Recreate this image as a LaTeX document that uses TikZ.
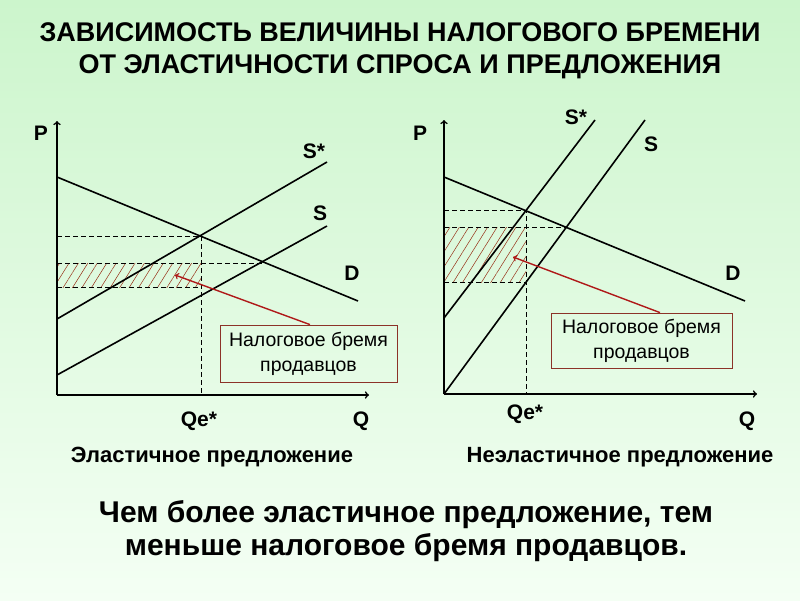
\documentclass[tikz,border=0pt]{standalone}
\usepackage{fontspec}
\setmainfont{Liberation Sans}
\usetikzlibrary{arrows, positioning, calc, patterns.meta}
\definecolor{bgtop}{RGB}{204, 245, 204}
\definecolor{bgbottom}{RGB}{244, 255, 244}
\definecolor{taxred}{RGB}{175, 25, 25}
\definecolor{boxred}{RGB}{140, 50, 40}
\definecolor{hatchred}{RGB}{150, 45, 20}

\tikzset{
    curve/.style={line width=1.6pt},
    axisline/.style={line width=1.6pt, ->, >=to},
    guide/.style={line width=0.6pt, dash pattern=on 5pt off 3pt},
    burden/.style={pattern={Lines[angle=58, distance=8pt, line width=0.5pt]}, pattern color=hatchred},
    taxbox/.style={draw=boxred, line width=0.8pt, align=center, inner sep=0pt, font=\fontsize{19.5}{25}\selectfont},
    letter/.style={font=\bfseries\fontsize{21}{23}\selectfont},
    caption/.style={font=\bfseries\fontsize{22}{24}\selectfont},
    pointer/.style={draw=taxred, line width=1.4pt, ->, >=to}
}

\begin{document}
\begin{tikzpicture}[x=1pt, y=-1pt]
    % background
    \shade[top color=bgtop, bottom color=bgbottom] (0,0) rectangle (800,600);
    \useasboundingbox (0,0) rectangle (800,600);

    % title
    \node[font=\bfseries\fontsize{27}{32}\selectfont, align=center] (title) at (400,51) {ЗАВИСИМОСТЬ ВЕЛИЧИНЫ НАЛОГОВОГО БРЕМЕНИ\\ОТ ЭЛАСТИЧНОСТИ СПРОСА И ПРЕДЛОЖЕНИЯ};

    % ---- elastic supply ----
    \coordinate (o1) at (57,395);
    \fill[burden] (57,263) rectangle (201,287);
    \draw[guide] (57,236) -- (201,236) -- (201,395);
    \draw[guide] (57,263) -- (263,263);
    \draw[guide] (57,287) -- (201,287);
    \draw[curve] (57,177) -- (358,301);
    \draw[curve] (57,319) -- (327,162);
    \draw[curve] (57,375) -- (327,226);
    \draw[axisline] (o1) -- (57,121);
    \draw[axisline] (o1) -- (369,395);
    \node[letter] (p1) at (41,133) {P};
    \node[letter] (q1) at (361,421) {Q};
    \node[letter] (qe1) at (199,421) {Qe*};
    \node[letter] (ss1) at (314,151) {S*};
    \node[letter] (s1) at (320,213) {S};
    \node[letter] (d1) at (352,273) {D};
    \node[taxbox, minimum width=177pt, minimum height=57pt] (box1) at (308.5,353.5) {Налоговое бремя\\продавцов};
    \coordinate (tip1) at (175,275);
    \draw[pointer] (box1.north -| 310,0) -- (tip1);

    % ---- inelastic supply ----
    \coordinate (o2) at (444,394);
    \fill[burden] (444,227) rectangle (526,282);
    \draw[guide] (444,210) -- (526,210) -- (526,394);
    \draw[guide] (444,227) -- (566,227);
    \draw[guide] (444,282) -- (526,282);
    \draw[curve] (444,177) -- (745,301);
    \draw[curve] (444,318) -- (595,120);
    \draw[curve] (444,394) -- (645,120);
    \draw[axisline] (o2) -- (444,120);
    \draw[axisline] (o2) -- (757,394);
    \node[letter] (p2) at (420,133) {P};
    \node[letter] (q2) at (747,421) {Q};
    \node[letter] (qe2) at (525,414) {Qe*};
    \node[letter] (ss2) at (576,117) {S*};
    \node[letter] (s2) at (651,144) {S};
    \node[letter] (d2) at (733,273) {D};
    \node[taxbox, minimum width=181pt, minimum height=55pt] (box2) at (641.5,340.5) {Налоговое бремя\\продавцов};
    \coordinate (tip2) at (513,257);
    \draw[pointer] (box2.north -| 660,0) -- (tip2);

    % captions
    \node[caption] (cap1) at (212,457) {Эластичное предложение};
    \node[caption] (cap2) at (620,457) {Неэластичное предложение};
    \node[font=\bfseries\fontsize{30}{33}\selectfont, align=center] (moral) at (406,531) {Чем более эластичное предложение, тем\\меньше налоговое бремя продавцов.};
\end{tikzpicture}
\end{document}
